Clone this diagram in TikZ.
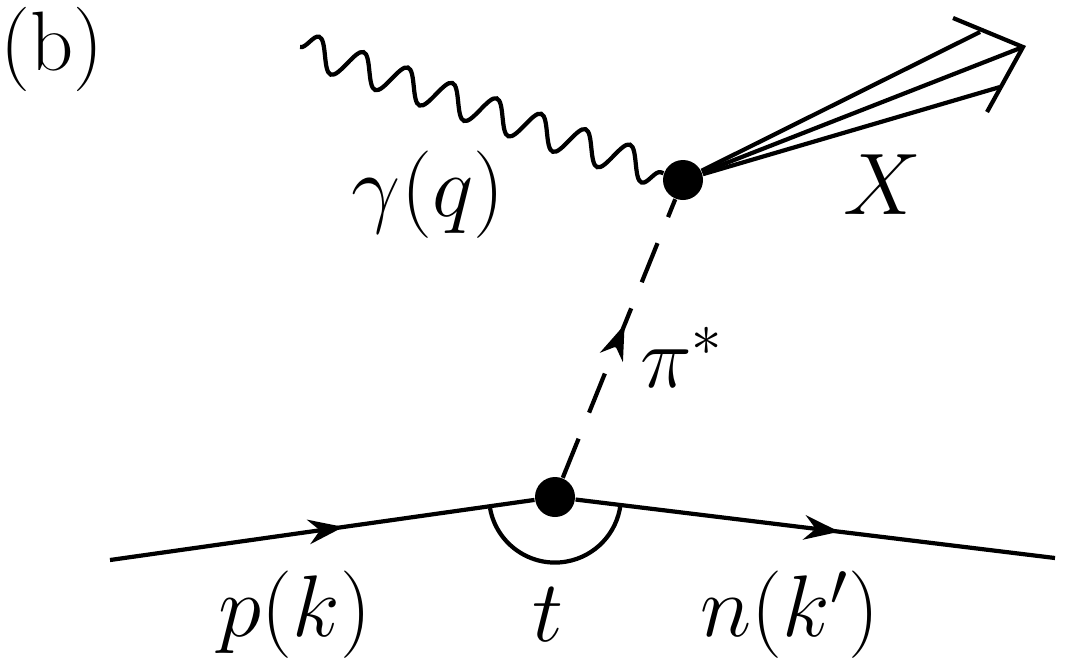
\documentclass[tikz,border=0pt]{standalone}
\usetikzlibrary{decorations.pathmorphing,decorations.markings,arrows.meta}
\tikzset{
  vtx/.style={circle,fill=black,inner sep=0pt,minimum size=0.4cm},
  lbl/.style={font=\fontsize{24}{24}\selectfont},
  fermion/.style={line width=1.2pt,postaction={decorate},decoration={markings,
    mark=at position 0.55 with {\arrow{Stealth[length=10pt,width=7pt]}}}},
  photon/.style={line width=1.2pt,decorate,decoration={snake,amplitude=0.16cm,segment length=0.47cm}},
}
\begin{document}
\begin{tikzpicture}
\useasboundingbox (0,0) rectangle (10.69,6.57);

\node [lbl,anchor=north west,inner sep=0pt] (b) at (0.0,6.5) {(b)};

% vertices
\node [vtx] (v1) at (6.83,4.77) {};
\node [vtx] (v2) at (5.55,1.6) {};
\coordinate (gin) at (3.0,6.1);
\coordinate (pin) at (1.1,0.97);
\coordinate (nout) at (10.55,0.99);

% photon and pion
\draw [photon] (gin) -- (v1);
\draw [fermion,dashed,dash pattern=on 12pt off 8pt] (v2) -- (v1);

% nucleon line
\draw [fermion] (pin) -- (v2);
\draw [fermion] (v2) -- (nout);
\draw [line width=1.2pt] (4.9,1.49) arc[start angle=190,end angle=353,radius=0.66];

% jet X
\coordinate (tip) at (10.23,6.10);
\draw [line width=1.2pt] (v1) -- (9.80,6.25);
\draw [line width=1.2pt] (v1) -- (tip);
\draw [line width=1.2pt] (v1) -- (10.0,5.70);
\draw [line width=1.2pt] (9.53,6.39) -- (tip) -- (9.87,5.45);

% labels
\node [lbl] (lg) at (4.28,4.62) {$\gamma(q)$};
\node [lbl] (lx) at (8.82,4.72) {$X$};
\node [lbl] (lpi) at (6.82,3.0) {$\pi^*$};
\node [lbl] (lp) at (2.95,0.42) {$p(k)$};
\node [lbl] (lt) at (5.48,0.42) {$t$};
\node [lbl] (ln) at (7.9,0.42) {$n(k')$};
\end{tikzpicture}
\end{document}
